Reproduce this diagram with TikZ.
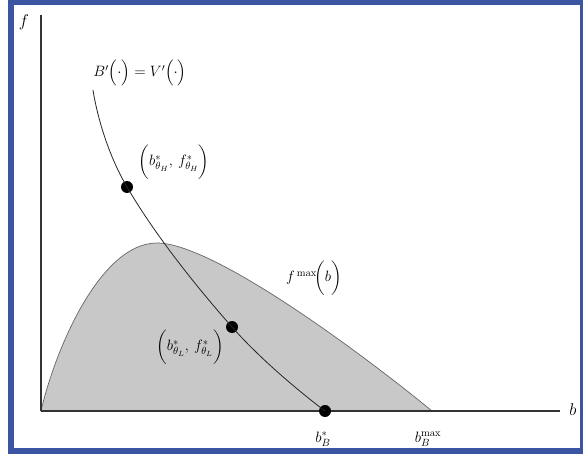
\RequirePackage{fix-cm}
\documentclass[tikz,border=0pt]{standalone}
\usepackage{amsmath}
\begin{document}
\begin{tikzpicture}[x=1pt,y=-1pt,
  lbl/.style={inner sep=0pt,font=\fontsize{15}{18}\selectfont},
  dotm/.style={circle,fill=black,inner sep=0pt,minimum size=12pt},
  axis/.style={line width=1.4pt,black!80}]
\useasboundingbox (0,0) rectangle (583,454);
\definecolor{frameblue}{HTML}{3B55A3}
\definecolor{shade}{HTML}{C8C8C8}
\fill[white] (0,0) rectangle (583,454);
\fill[frameblue] (8,0) rectangle (583,454);
\fill[white] (14,5) rectangle (580,448);
% shaded region f^max
\filldraw[fill=shade,draw=black!60,line width=0.7pt]
  (41,411) .. controls (55,350) and (100,243) .. (157,243)
  .. controls (215,243) and (370,360) .. (432,411) -- cycle;
% axes
\coordinate (O) at (41,411);
\coordinate (ytop) at (41,15);
\coordinate (xend) at (560,411);
\draw[axis] (O) -- (ytop);
\draw[axis] (O) -- (xend);
\node[lbl,font=\fontsize{17}{20}\selectfont] (fl) at (24,22) {$f$};
\node[lbl,font=\fontsize{17}{20}\selectfont] (bl) at (573,410) {$b$};
% dots
\node[dotm] (dH) at (127,187) {};
\node[dotm] (dL) at (232,327) {};
\node[dotm] (dB) at (325,411) {};
% B'=V' curve
\draw[line width=0.8pt,black!85] plot[smooth,tension=0.7] coordinates {(93,90) (127,187) (232,327) (325,411)};
% labels
\node[lbl] (eq) at (140,73) {$B'\Bigl(\cdot\Bigr)=V'\Bigl(\cdot\Bigr)$};
\node[lbl] (lH) at (174,162) {$\biggl(b^{*}_{\theta_H},\,f^{*}_{\theta_H}\biggr)$};
\node[lbl] (lL) at (190,347) {$\biggl(b^{*}_{\theta_L},\,f^{*}_{\theta_L}\biggr)$};
\node[lbl] (fm) at (314,278) {$f^{\,\max}\!\biggl(b\biggr)$};
\node[lbl] (bB) at (323,439) {$b^{*}_{B}$};
\node[lbl] (bM) at (428,439) {$b^{\max}_{B}$};
\end{tikzpicture}
\end{document}
